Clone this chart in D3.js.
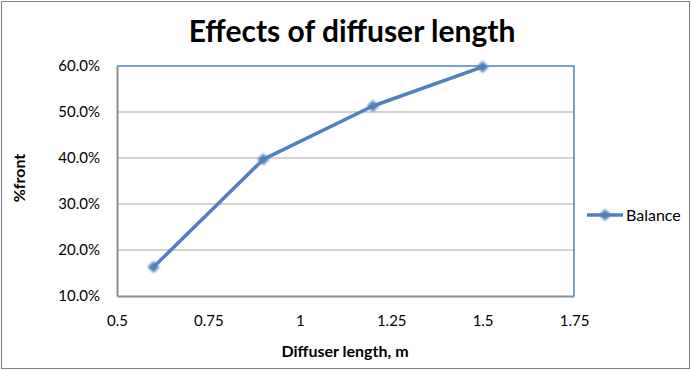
<!DOCTYPE html>
<html>
<head>
<meta charset="utf-8">
<script src="https://cdn.jsdelivr.net/npm/d3@7"></script>
<style>
  body { margin: 0; background: #fff; }
  svg { display: block; font-family: Lato, "Open Sans", sans-serif; }
</style>
</head>
<body>
<script>
// data
var lengths = [0.6, 0.9, 1.2, 1.5];
var balance = [0.163, 0.397, 0.513, 0.598];
var xTicks = [0.5, 0.75, 1, 1.25, 1.5, 1.75];
var yTicks = [0.1, 0.2, 0.3, 0.4, 0.5, 0.6];
var seriesName = "Balance";

var W = 691, H = 370;
var margin = { top: 66, right: 117, bottom: 74, left: 117 },
    width = W - margin.left - margin.right,
    height = H - margin.top - margin.bottom;

var blue = "#4f81bd";

var svg = d3.select("body").append("svg")
    .attr("width", W)
    .attr("height", H);

// outer chart border
svg.append("rect")
    .attr("x", 1.5).attr("y", 1.5)
    .attr("width", W - 3).attr("height", H - 3)
    .attr("fill", "#fff")
    .attr("stroke", "#7f7f7f")
    .attr("stroke-width", 1);

var defs = svg.append("defs");
defs.append("filter").attr("id", "soft")
    .append("feGaussianBlur").attr("stdDeviation", 0.8);

var g = svg.append("g")
    .attr("transform", `translate(${margin.left}, ${margin.top})`);

var x = d3.scaleLinear().domain([0.5, 1.75]).range([0, width]);
var y = d3.scaleLinear().domain([0.1, 0.6]).range([height, 0]);

// gridlines
g.append("g")
  .selectAll("line")
  .data(yTicks.slice(1, -1))
  .join("line")
    .attr("x1", 0).attr("x2", width)
    .attr("y1", d => y(d)).attr("y2", d => y(d))
    .attr("stroke", "#a6a6a6")
    .attr("stroke-width", 1.2);

// plot area border (top + right blue)
g.append("path")
    .attr("d", `M0,0H${width}V${height}`)
    .attr("fill", "none")
    .attr("stroke", blue)
    .attr("stroke-width", 1.5);

// axes
var yAxis = g.append("g")
    .call(d3.axisLeft(y).tickValues(yTicks).tickFormat(d3.format(".1%")).tickSize(0).tickPadding(17));
var xAxis = g.append("g")
    .attr("transform", `translate(0, ${height})`)
    .call(d3.axisBottom(x).tickValues(xTicks).tickFormat(d => d).tickSize(0).tickPadding(19));

[xAxis, yAxis].forEach(a => {
  a.select(".domain").attr("stroke", "#8c8c8c").attr("stroke-width", 2);
  a.selectAll("text").attr("font-size", 15).attr("fill", "#000")
    .attr("font-family", "Lato, 'Open Sans', sans-serif");
});

// the line
var line = d3.line()
    .x((d, i) => x(lengths[i]))
    .y(d => y(d));

g.append("path")
    .datum(balance)
    .attr("fill", "none")
    .attr("stroke", blue)
    .attr("stroke-width", 3.5)
    .attr("stroke-linejoin", "round")
    .attr("d", line);

// excel-style diamond: square turned 45 degrees
var diamond = d3.symbol().type(d3.symbolSquare).size(72);

g.append("g")
  .selectAll("path")
  .data(balance)
  .join("path")
    .attr("transform", (d, i) => `translate(${x(lengths[i])}, ${y(d)}) rotate(45)`)
    .attr("d", diamond)
    .attr("fill", blue)
    .attr("filter", "url(#soft)");

// title
svg.append("text")
    .attr("x", 352).attr("y", 42)
    .attr("text-anchor", "middle")
    .attr("font-size", 30)
    .attr("font-weight", "bold")
    .text("Effects of diffuser length");

// axis titles
svg.append("text")
    .attr("x", 345).attr("y", 357)
    .attr("text-anchor", "middle")
    .attr("font-size", 16)
    .attr("font-weight", "bold")
    .text("Diffuser length, m");

svg.append("text")
    .attr("transform", "translate(25, 178) rotate(-90)")
    .attr("text-anchor", "middle")
    .attr("font-size", 16)
    .attr("font-weight", "bold")
    .text("%front");

// legend
var lg = svg.append("g").attr("transform", "translate(587, 215)");
lg.append("line")
    .attr("x1", 0).attr("x2", 36)
    .attr("stroke", blue).attr("stroke-width", 3.5);
lg.append("path")
    .attr("transform", "translate(18, 0) rotate(45)")
    .attr("d", diamond)
    .attr("fill", blue)
    .attr("filter", "url(#soft)");
lg.append("text")
    .attr("x", 39).attr("y", 5.5)
    .attr("font-size", 16)
    .text(seriesName);
</script>
</body>
</html>
